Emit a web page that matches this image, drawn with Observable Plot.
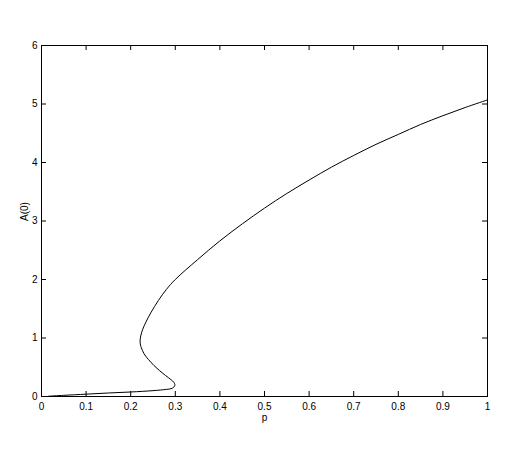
<!DOCTYPE html>
<html>
<head>
<meta charset="utf-8">
<script src="https://cdn.jsdelivr.net/npm/d3@7"></script>
<script src="https://cdn.jsdelivr.net/npm/@observablehq/plot@0.6"></script>
<style>
  html, body { margin: 0; padding: 0; background: #fff; }
  #chart svg { display: block; }
</style>
</head>
<body>
<div id="chart"></div>
<script>
// Curve traced in path order (lower branch -> fold -> upper branch)
const pValues = [0.016, 0.05, 0.1, 0.15, 0.2, 0.25, 0.28, 0.293, 0.299, 0.297, 0.29, 0.278, 0.265, 0.252, 0.24, 0.23, 0.224, 0.222, 0.221, 0.223, 0.227, 0.234, 0.245, 0.262, 0.28, 0.3, 0.35, 0.4, 0.45, 0.5, 0.55, 0.6, 0.65, 0.7, 0.75, 0.8, 0.85, 0.9, 0.95, 1.0];
const aValues = [0.005, 0.02, 0.04, 0.06, 0.077, 0.1, 0.122, 0.14, 0.19, 0.24, 0.29, 0.36, 0.44, 0.53, 0.63, 0.73, 0.83, 0.88, 0.95, 1.05, 1.15, 1.27, 1.43, 1.64, 1.83, 2.0, 2.34, 2.66, 2.95, 3.22, 3.47, 3.70, 3.92, 4.12, 4.31, 4.48, 4.65, 4.80, 4.94, 5.07];
const xTicks = [0, 0.1, 0.2, 0.3, 0.4, 0.5, 0.6, 0.7, 0.8, 0.9, 1];
const yTicks = [0, 1, 2, 3, 4, 5, 6];
const xLabel = "p";
const yLabel = "A(0)";

const data = pValues.map((p, i) => ({p, a: aValues[i]}));
const fmt = v => String(v);

const tx = 5 / 446; // tick length in x units
const ty = 6 * 5 / 351; // tick length in y units

const chart = Plot.plot({
  width: 522,
  height: 453,
  marginLeft: 41,
  marginRight: 35,
  marginTop: 45,
  marginBottom: 57,
  style: {fontFamily: "'Liberation Sans', Arial, sans-serif", fontSize: "10px", background: "#fff", color: "#000"},
  x: {domain: [0, 1]},
  y: {domain: [0, 6]},
  marks: [
    Plot.axisX({ticks: xTicks, tickSize: 0, tickPadding: 6, tickFormat: fmt, label: null}),
    Plot.axisY({ticks: yTicks, tickSize: 0, tickPadding: 4, tickFormat: fmt, label: null}),
    Plot.ruleX(xTicks, {x: d => d, y1: 0, y2: ty, stroke: "#000"}),
    Plot.ruleX(xTicks, {x: d => d, y1: 6 - ty, y2: 6, stroke: "#000"}),
    Plot.ruleY(yTicks, {y: d => d, x1: 0, x2: tx, stroke: "#000"}),
    Plot.ruleY(yTicks, {y: d => d, x1: 1 - tx, x2: 1, stroke: "#000"}),
    Plot.frame({stroke: "#000"}),
    Plot.line(data, {x: "p", y: "a", stroke: "#000", strokeWidth: 1, curve: "catmull-rom"}),
    Plot.text([xLabel], {x: 0.5, frameAnchor: "bottom", lineAnchor: "middle", dy: 21.5, text: d => d, fill: "#000", fontSize: 10}),
    Plot.text([yLabel], {y: 3, frameAnchor: "left", lineAnchor: "middle", dx: -17, rotate: -90, text: d => d, fill: "#000", fontSize: 10})
  ]
});
document.getElementById("chart").appendChild(chart);
</script>
</body>
</html>
